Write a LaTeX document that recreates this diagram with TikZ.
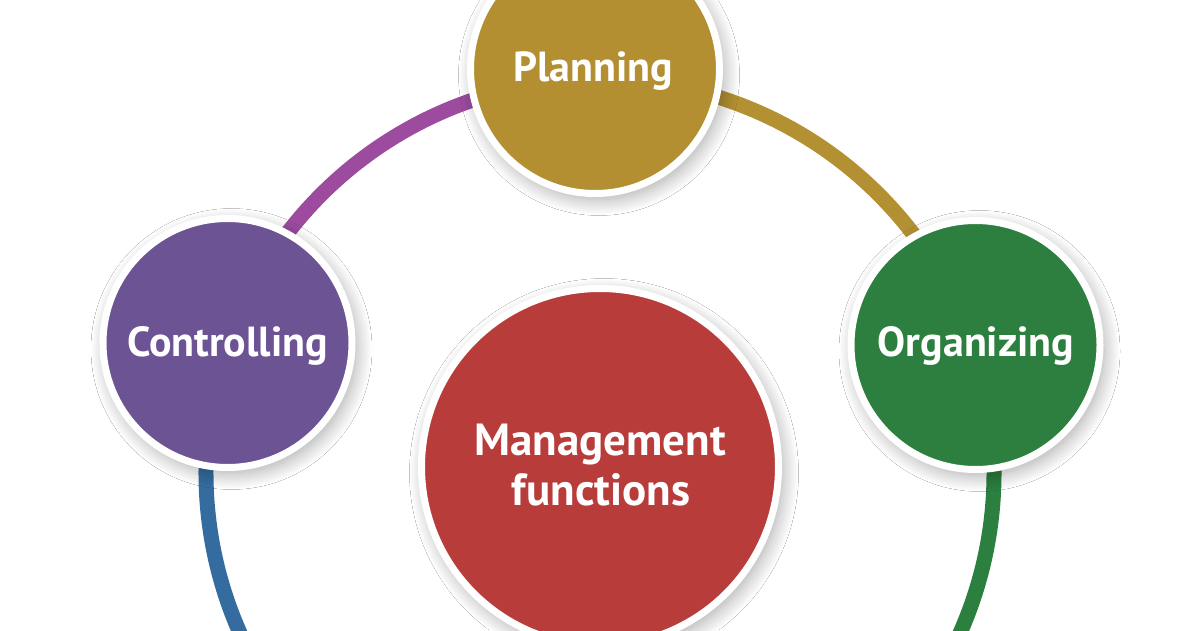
\documentclass[tikz,border=0pt]{standalone}
\usepackage{fontspec}
\setmainfont{PT Sans}
\usetikzlibrary{shadows.blur}
\definecolor{plangold}{HTML}{B38F31}
\definecolor{ctrlpurple}{HTML}{6C5394}
\definecolor{orggreen}{HTML}{2C7F3F}
\definecolor{mgmtred}{HTML}{B73C3A}
\definecolor{ringpurple}{HTML}{9C4B9F}
\definecolor{ringgold}{HTML}{B39032}
\definecolor{ringgreen}{HTML}{2B8040}
\definecolor{ringblue}{HTML}{356CA0}
\begin{document}
\begin{tikzpicture}[x=1pt,y=1pt,
  fn/.style={circle, draw=white, line width=7pt, inner sep=0pt,
    blur shadow={shadow xshift=4pt, shadow yshift=-6pt, shadow blur radius=16pt, shadow opacity=35, shadow blur steps=20}},
  lbl/.style={text=white, font=\fontsize{42}{50}\selectfont\bfseries, anchor=base, inner sep=0pt},
  biglbl/.style={lbl, font=\fontsize{45}{50}\selectfont\bfseries},
  ringseg/.style={line width=15pt}]
\useasboundingbox (0,0) rectangle (1200,630);
\clip (0,0) rectangle (1200,630);
\fill[white] (0,0) rectangle (1200,630);
\coordinate (rc) at (600,157);
% ring segments
\draw[ringseg, ringpurple] ([shift={(90:394)}]rc) arc (90:161:394);
\draw[ringseg, ringgold] ([shift={(19:394)}]rc) arc (19:90:394);
\draw[ringseg, ringgreen] ([shift={(-45:394)}]rc) arc (-45:19:394);
\draw[ringseg, ringblue] ([shift={(161:394)}]rc) arc (161:225:394);
% circles
\node[fn, fill=plangold, minimum size=249pt] (plan) at (595,561) {};
\node[fn, fill=ctrlpurple, minimum size=249pt] (ctrl) at (227.5,287) {};
\node[fn, fill=orggreen, minimum size=249pt] (org) at (975.5,285) {};
\node[fn, fill=mgmtred, minimum size=357pt] (mgmt) at (600,163) {};
% labels
\node[lbl] (plant) at (593,548) {Planning};
\node[lbl] (ctrlt) at (227.5,273) {Controlling};
\node[lbl] (orgt) at (976,273) {Organizing};
\node[biglbl] (mgmta) at (600,175) {Management};
\node[biglbl] (mgmtb) at (601,125) {functions};
\end{tikzpicture}
\end{document}
